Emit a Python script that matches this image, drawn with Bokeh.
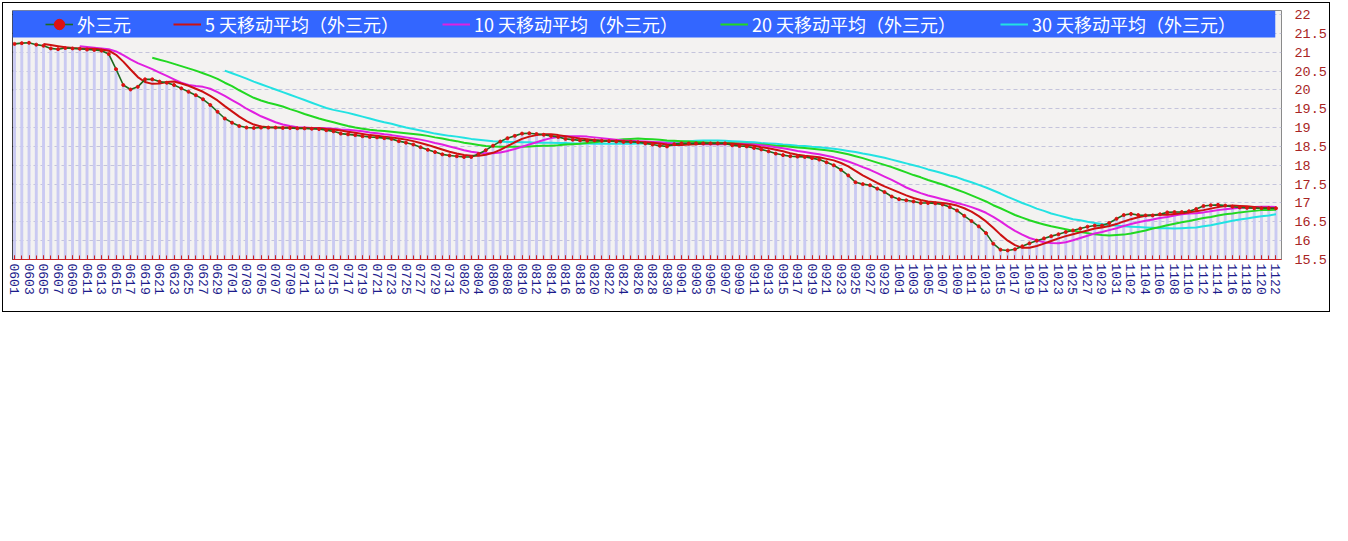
from bokeh.plotting import figure
from bokeh.layouts import column
from bokeh.models import (FixedTicker, NumeralTickFormatter, BoxAnnotation,
                          Legend, LegendItem, Range1d, Span)
from bokeh.embed import file_html
from bokeh.resources import INLINE

# ---------------- data ----------------
months = [("06", 30), ("07", 31), ("08", 31), ("09", 30), ("10", 31), ("11", 22)]
dates = [m + f"{d:02d}" for m, n in months for d in range(1, n + 1)]

price = [21.22, 21.24, 21.25, 21.20, 21.17, 21.10, 21.08, 21.11, 21.10, 21.09,
         21.07, 21.06, 21.04, 20.95, 20.55, 20.13, 20.01, 20.08, 20.28, 20.28,
         20.22, 20.19, 20.13, 20.04, 19.95, 19.86, 19.75, 19.60, 19.42, 19.24,
         19.13, 19.04, 19.00, 18.99, 19.00, 19.00, 19.00, 18.99, 18.99, 18.98,
         18.98, 18.97, 18.96, 18.93, 18.90, 18.84, 18.82, 18.80, 18.77, 18.75,
         18.74, 18.72, 18.70, 18.64, 18.60, 18.55, 18.48, 18.41, 18.35, 18.29,
         18.26, 18.24, 18.22, 18.22, 18.30, 18.40, 18.52, 18.63, 18.72, 18.78,
         18.84, 18.85, 18.83, 18.81, 18.78, 18.75, 18.70, 18.68, 18.66, 18.65,
         18.66, 18.65, 18.64, 18.63, 18.62, 18.62, 18.61, 18.58, 18.55, 18.52,
         18.50, 18.56, 18.58, 18.58, 18.58, 18.58, 18.58, 18.58, 18.58, 18.53,
         18.51, 18.50, 18.46, 18.42, 18.37, 18.31, 18.27, 18.24, 18.23, 18.22,
         18.19, 18.15, 18.08, 18.00, 17.88, 17.73, 17.55, 17.50, 17.47, 17.38,
         17.29, 17.17, 17.10, 17.07, 17.04, 17.00, 17.00, 16.99, 16.96, 16.89,
         16.80, 16.66, 16.52, 16.38, 16.20, 15.92, 15.76, 15.74, 15.77, 15.85,
         15.93, 16.00, 16.06, 16.12, 16.17, 16.23, 16.27, 16.32, 16.37, 16.40,
         16.40, 16.47, 16.58, 16.68, 16.71, 16.68, 16.67, 16.67, 16.70, 16.75,
         16.76, 16.76, 16.78, 16.84, 16.92, 16.94, 16.95, 16.93, 16.90, 16.88,
         16.87, 16.86, 16.86, 16.86, 16.86]

ma5 = [21.22, 21.19, 21.16, 21.13, 21.11, 21.10, 21.09, 21.09, 21.07, 21.04,
       20.93, 20.75, 20.54, 20.34, 20.21, 20.16, 20.17, 20.21, 20.22, 20.17,
       20.11, 20.03, 19.95, 19.84, 19.72, 19.57, 19.43, 19.29, 19.17, 19.08,
       19.03, 19.01, 19.00, 19.00, 19.00, 18.99, 18.99, 18.98, 18.98, 18.96,
       18.95, 18.92, 18.89, 18.86, 18.83, 18.80, 18.78, 18.76, 18.74, 18.71,
       18.68, 18.64, 18.59, 18.54, 18.48, 18.42, 18.36, 18.31, 18.27, 18.25,
       18.25, 18.28, 18.33, 18.41, 18.51, 18.61, 18.70, 18.76, 18.80, 18.82,
       18.82, 18.80, 18.77, 18.74, 18.71, 18.69, 18.67, 18.66, 18.65, 18.65,
       18.64, 18.63, 18.62, 18.61, 18.60, 18.58, 18.55, 18.54, 18.54, 18.55,
       18.56, 18.58, 18.58, 18.58, 18.58, 18.57, 18.56, 18.54, 18.52, 18.48,
       18.45, 18.41, 18.37, 18.32, 18.28, 18.25, 18.23, 18.21, 18.17, 18.13,
       18.06, 17.97, 17.85, 17.73, 17.63, 17.53, 17.44, 17.36, 17.28, 17.20,
       17.13, 17.08, 17.04, 17.02, 17.00, 16.97, 16.93, 16.86, 16.77, 16.65,
       16.51, 16.34, 16.16, 16.00, 15.88, 15.81, 15.81, 15.86, 15.92, 15.99,
       16.06, 16.12, 16.17, 16.22, 16.27, 16.32, 16.35, 16.39, 16.44, 16.51,
       16.57, 16.62, 16.66, 16.68, 16.69, 16.69, 16.71, 16.73, 16.75, 16.78,
       16.81, 16.85, 16.89, 16.92, 16.93, 16.92, 16.91, 16.89, 16.87, 16.87,
       16.86]

ma10 = [21.16, 21.14, 21.12, 21.10, 21.08, 21.02, 20.92, 20.81, 20.71, 20.63,
        20.55, 20.46, 20.37, 20.28, 20.19, 20.13, 20.10, 20.08, 20.03, 19.94,
        19.84, 19.73, 19.62, 19.50, 19.40, 19.30, 19.22, 19.14, 19.08, 19.04,
        19.01, 19.00, 18.99, 18.99, 18.98, 18.97, 18.95, 18.94, 18.92, 18.90,
        18.87, 18.85, 18.82, 18.80, 18.77, 18.74, 18.71, 18.68, 18.64, 18.59,
        18.55, 18.50, 18.45, 18.40, 18.36, 18.33, 18.32, 18.32, 18.34, 18.38,
        18.43, 18.49, 18.55, 18.61, 18.67, 18.72, 18.75, 18.77, 18.77, 18.77,
        18.76, 18.74, 18.72, 18.70, 18.68, 18.66, 18.65, 18.64, 18.63, 18.62,
        18.61, 18.59, 18.58, 18.58, 18.57, 18.57, 18.56, 18.56, 18.56, 18.56,
        18.57, 18.57, 18.56, 18.55, 18.53, 18.51, 18.48, 18.45, 18.42, 18.38,
        18.35, 18.32, 18.29, 18.25, 18.21, 18.16, 18.10, 18.03, 17.95, 17.88,
        17.79, 17.70, 17.61, 17.51, 17.41, 17.33, 17.26, 17.20, 17.15, 17.10,
        17.05, 17.00, 16.95, 16.89, 16.82, 16.74, 16.63, 16.51, 16.38, 16.26,
        16.16, 16.07, 16.01, 15.96, 15.94, 15.93, 15.96, 16.01, 16.07, 16.13,
        16.19, 16.23, 16.28, 16.33, 16.39, 16.44, 16.49, 16.53, 16.56, 16.60,
        16.63, 16.67, 16.70, 16.72, 16.73, 16.75, 16.78, 16.81, 16.83, 16.85,
        16.87, 16.88, 16.89, 16.90, 16.90, 16.89]

ma20 = [20.85, 20.80, 20.75, 20.69, 20.63, 20.57, 20.51, 20.44, 20.37, 20.29,
        20.19, 20.10, 19.99, 19.89, 19.79, 19.72, 19.66, 19.61, 19.56, 19.49,
        19.43, 19.36, 19.30, 19.24, 19.19, 19.14, 19.09, 19.04, 19.00, 18.97,
        18.94, 18.92, 18.91, 18.89, 18.87, 18.85, 18.83, 18.81, 18.78, 18.74,
        18.71, 18.67, 18.64, 18.60, 18.57, 18.54, 18.51, 18.50, 18.49, 18.49,
        18.49, 18.49, 18.50, 18.51, 18.52, 18.52, 18.53, 18.55, 18.56, 18.57,
        18.59, 18.61, 18.63, 18.65, 18.67, 18.69, 18.70, 18.71, 18.70, 18.69,
        18.68, 18.66, 18.65, 18.64, 18.63, 18.62, 18.61, 18.60, 18.60, 18.59,
        18.59, 18.58, 18.57, 18.56, 18.55, 18.54, 18.52, 18.51, 18.49, 18.47,
        18.46, 18.44, 18.42, 18.40, 18.37, 18.33, 18.29, 18.24, 18.19, 18.13,
        18.07, 18.01, 17.95, 17.88, 17.81, 17.74, 17.68, 17.61, 17.55, 17.49,
        17.42, 17.35, 17.28, 17.20, 17.12, 17.04, 16.94, 16.86, 16.77, 16.68,
        16.61, 16.54, 16.48, 16.43, 16.38, 16.34, 16.30, 16.26, 16.23, 16.20,
        16.17, 16.15, 16.14, 16.15, 16.16, 16.19, 16.23, 16.27, 16.32, 16.36,
        16.41, 16.45, 16.49, 16.52, 16.56, 16.60, 16.63, 16.67, 16.70, 16.72,
        16.75, 16.77, 16.79, 16.81, 16.81, 16.82]

ma30 = [20.51, 20.44, 20.37, 20.30, 20.22, 20.15, 20.08, 20.01, 19.94, 19.87,
        19.80, 19.73, 19.66, 19.59, 19.52, 19.47, 19.43, 19.39, 19.34, 19.29,
        19.24, 19.19, 19.14, 19.10, 19.05, 19.00, 18.96, 18.92, 18.88, 18.84,
        18.81, 18.78, 18.76, 18.73, 18.70, 18.68, 18.66, 18.64, 18.63, 18.62,
        18.62, 18.61, 18.61, 18.60, 18.60, 18.60, 18.59, 18.59, 18.58, 18.58,
        18.58, 18.57, 18.57, 18.57, 18.57, 18.57, 18.57, 18.58, 18.58, 18.59,
        18.60, 18.61, 18.62, 18.63, 18.64, 18.65, 18.66, 18.66, 18.66, 18.65,
        18.64, 18.63, 18.62, 18.61, 18.59, 18.58, 18.57, 18.55, 18.54, 18.52,
        18.51, 18.49, 18.48, 18.46, 18.44, 18.41, 18.38, 18.35, 18.31, 18.28,
        18.24, 18.20, 18.15, 18.10, 18.05, 18.00, 17.95, 17.89, 17.84, 17.79,
        17.73, 17.68, 17.61, 17.55, 17.48, 17.41, 17.33, 17.25, 17.16, 17.08,
        17.00, 16.93, 16.85, 16.79, 16.72, 16.67, 16.62, 16.57, 16.54, 16.50,
        16.47, 16.44, 16.41, 16.40, 16.38, 16.37, 16.36, 16.35, 16.34, 16.33,
        16.33, 16.32, 16.33, 16.34, 16.35, 16.38, 16.41, 16.45, 16.49, 16.53,
        16.56, 16.59, 16.62, 16.65, 16.67, 16.70]

y_ticks = [15.5, 16, 16.5, 17, 17.5, 18, 18.5, 19, 19.5, 20, 20.5, 21, 21.5, 22]

series_names = ["外三元", "5 天移动平均（外三元）", "10 天移动平均（外三元）",
                "20 天移动平均（外三元）", "30 天移动平均（外三元）"]
series_colors = ["#1F6B1F", "#CC1111", "#E020E0", "#22D822", "#22E2E2"]

# ---------------- figure ----------------
idx = list(range(len(dates)))
n = len(dates)
x_start, x_end = -0.28, n - 0.24
y_start, y_end = y_ticks[0], y_ticks[-1] + 0.106   # a little head-room for the legend bar

p = figure(width=1326, height=308, output_backend="svg", toolbar_location=None,
           x_range=Range1d(x_start, x_end), y_range=Range1d(y_start, y_end),
           y_axis_location="right",
           min_border_left=9, min_border_right=47, min_border_top=7, min_border_bottom=52)

p.background_fill_color = "#F3F2F1"
p.border_fill_color = "white"
p.outline_line_color = "#8A8A8A"

# right axis (value labels)
ra = p.yaxis[0]
ra.ticker = FixedTicker(ticks=y_ticks)
ra.formatter = NumeralTickFormatter(format="0.[0]")
ra.axis_line_color = None
ra.major_tick_line_color = None
ra.minor_tick_line_color = None
ra.major_label_standoff = 7
ra.major_label_text_color = "#A82424"
ra.major_label_text_font = "Liberation Mono"
ra.major_label_text_font_size = "13.5px"

# bottom axis
xa = p.xaxis[0]
xa.ticker = FixedTicker(ticks=idx[::2], minor_ticks=idx)
xa.major_label_overrides = {i: dates[i] for i in idx[::2]}
xa.major_label_orientation = "vertical"
xa.axis_line_color = "#CC2222"
xa.major_tick_line_color = "#CC2222"
xa.minor_tick_line_color = "#CC2222"
xa.major_tick_in = 4
xa.major_tick_out = 0
xa.minor_tick_in = 4
xa.minor_tick_out = 0
xa.major_label_standoff = 4
xa.major_label_text_color = "#1C1C8C"
xa.major_label_text_font = "Liberation Mono"
xa.major_label_text_font_size = "13px"

# grid
p.xgrid.grid_line_color = None
p.ygrid.grid_line_color = "#C4C4DC"
p.ygrid.grid_line_dash = "4 3"

# left axis line with inner ticks (no labels)
p.add_layout(Span(location=x_start, dimension="height", line_color="black", line_width=1))
p.scatter(x=[x_start] * len(y_ticks), y=y_ticks, marker="dash", size=7,
          line_color="black", line_width=1)

# bars
p.vbar(x=idx, top=price, bottom=y_start, width=0.4, fill_color="#CACAF2",
       line_color=None)

# moving averages
def tail_x(vals):
    return idx[n - len(vals):]

r30 = p.line(tail_x(ma30), ma30, line_color=series_colors[4], line_width=2)
r20 = p.line(tail_x(ma20), ma20, line_color=series_colors[3], line_width=2)
r10 = p.line(tail_x(ma10), ma10, line_color=series_colors[2], line_width=2)
r5 = p.line(tail_x(ma5), ma5, line_color=series_colors[1], line_width=2)
r0 = p.line(idx, price, line_color=series_colors[0], line_width=1.6)
r0m = p.scatter(idx, price, size=3, fill_color="#DD1111", line_color="#DD1111")

# legend bar
bar = BoxAnnotation(left=None, right=n - 1.1, top=None, bottom=21.39,
                    fill_color="#3366FF", fill_alpha=1.0, line_color=None)
p.add_layout(bar)

legend_renderers = [[r0, r0m], [r5], [r10], [r20], [r30]]
legend_x = [33, 161, 430, 708, 988]
for name, rends, lx in zip(series_names, legend_renderers, legend_x):
    lg = Legend(items=[LegendItem(label=name, renderers=rends)],
                location=(lx, 222), padding=0, margin=0,
                background_fill_alpha=0, border_line_alpha=0,
                glyph_width=28, glyph_height=26, label_height=26, label_standoff=4,
                label_text_color="white", label_text_font="Noto Sans CJK SC",
                label_text_font_size="18px", label_text_baseline="middle")
    p.add_layout(lg)

# outer black frame round the whole chart
page = column(p, styles={"border": "1px solid black", "padding": "0px",
                         "margin-left": "2px", "margin-top": "2px"})

open("out.html", "w").write(file_html(page, INLINE))
